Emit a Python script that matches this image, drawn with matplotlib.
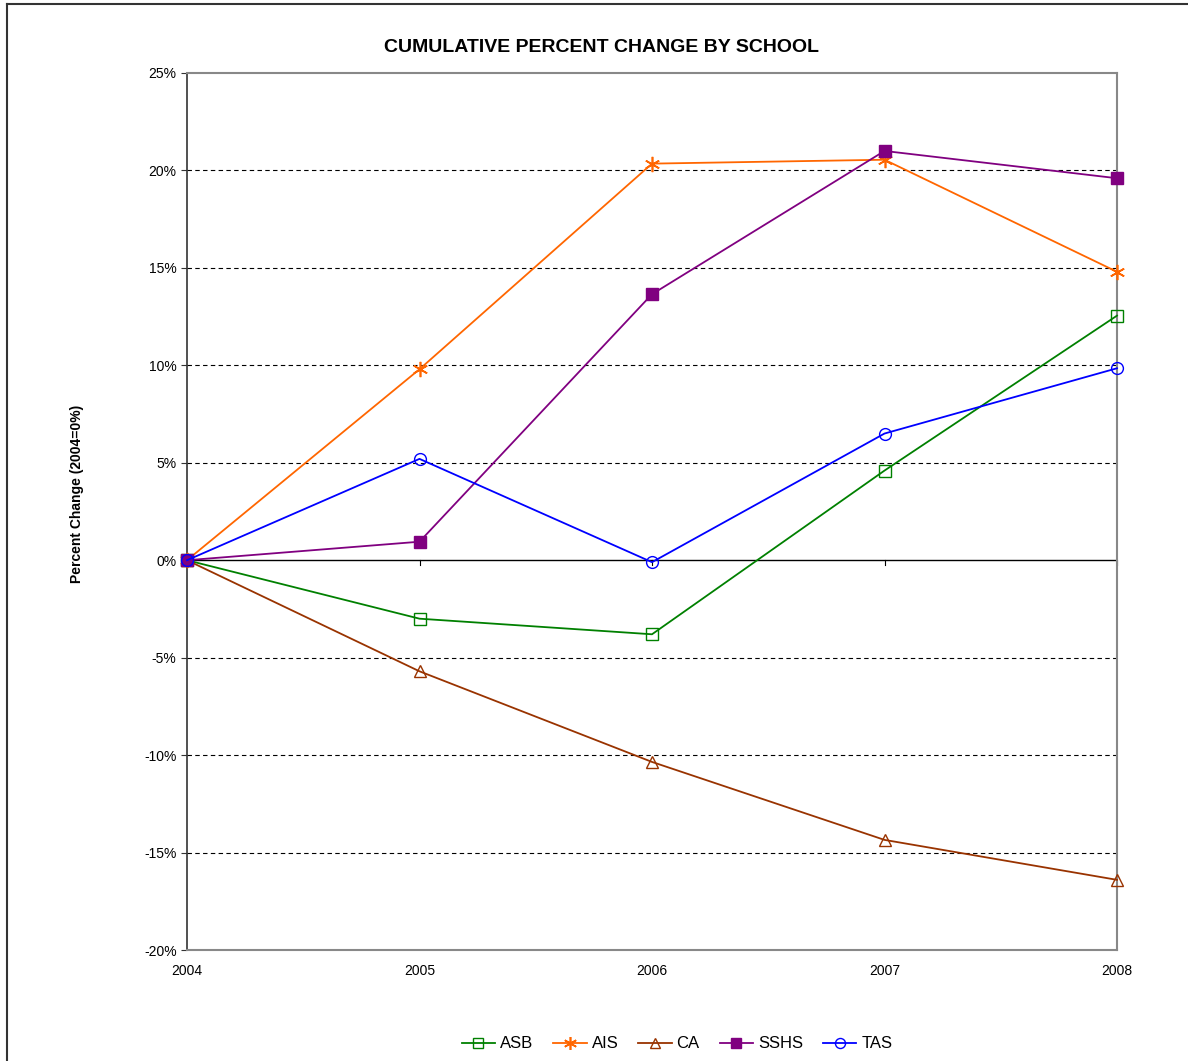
import matplotlib.pyplot as plt
from matplotlib.lines import Line2D
from matplotlib.ticker import FuncFormatter

plt.rcParams['font.family'] = ['Liberation Sans', 'DejaVu Sans']

years = [2004, 2005, 2006, 2007, 2008]
asb = [0.0, -3.0, -3.8, 4.6, 12.55]
ais = [0.0, 9.8, 20.35, 20.55, 14.8]
ca = [0.0, -5.7, -10.35, -14.35, -16.4]
sshs = [0.0, 0.95, 13.65, 21.0, 19.6]
tas = [0.0, 5.2, -0.1, 6.5, 9.85]

fig = plt.figure(figsize=(11.88, 10.61), dpi=100)
ax = fig.add_axes([187/1188, 1 - 950/1061, 930/1188, 877/1061])

# border of the chart area (top and left visible)
fig.add_artist(Line2D([7/1188, 7/1188], [0, 1 - 4/1061], color='#333333', lw=1.5))
fig.add_artist(Line2D([7/1188, 1], [1 - 4/1061, 1 - 4/1061], color='#333333', lw=1.5))

for v in [-15, -10, -5, 5, 10, 15, 20]:
    ax.axhline(v, color='black', lw=0.8, ls=(0, (4, 3)), zorder=1)
ax.axhline(0, color='black', lw=1.0, zorder=1)

kw = dict(lw=1.3, zorder=3, clip_on=False)
ax.plot(years, asb, color='#008000', marker='s', mfc='none', mec='#008000', ms=8.5, label='ASB', **kw)
ax.plot(years, ais, color='#FF6600', marker=(6, 2, 0), mec='#FF6600', ms=11, mew=1.2, label='AIS', **kw)
ax.plot(years, ca, color='#993300', marker='^', mfc='none', mec='#993300', ms=8.5, label='CA', **kw)
ax.plot(years, sshs, color='#800080', marker='s', mfc='#800080', mec='#800080', ms=8.5, label='SSHS', **kw)
ax.plot(years, tas, color='#0000FF', marker='o', mfc='none', mec='#0000FF', ms=8.5, label='TAS', **kw)

ax.set_xlim(2004, 2008)
ax.set_ylim(-20, 25)
ax.set_xticks(years)
ax.set_yticks(range(-20, 26, 5))
ax.yaxis.set_major_formatter(FuncFormatter(lambda v, p: f'{int(v)}%'))
ax.tick_params(axis='y', direction='out', length=4, labelsize=10, colors='#333333', labelcolor='black')
ax.tick_params(axis='x', length=0, labelsize=10, pad=10)

# small year ticks on the zero line
for yr in years:
    ax.plot([yr, yr], [0, -0.25], color='black', lw=0.8, zorder=2, clip_on=False)

for side in ['top', 'right', 'bottom']:
    ax.spines[side].set_color('#888888')
    ax.spines[side].set_linewidth(1.5)
ax.spines['left'].set_color('#333333')
ax.spines['left'].set_linewidth(1.2)

fig.text(602/1188, 1 - 48/1061, 'CUMULATIVE PERCENT CHANGE BY SCHOOL', ha='center', va='center',
         fontsize=14, fontweight='bold')
fig.text(77/1188, 1 - 494/1061, 'Percent Change (2004=0%)', ha='center', va='center',
         rotation=90, fontsize=10, fontweight='bold')

leg = fig.legend(loc='center', bbox_to_anchor=(677/1188, 1 - 1044/1061), ncol=5, frameon=False,
                 fontsize=12, handlelength=2.0, handletextpad=0.3, columnspacing=1.2, markerscale=0.85)

fig.savefig('out.png', dpi=100)
